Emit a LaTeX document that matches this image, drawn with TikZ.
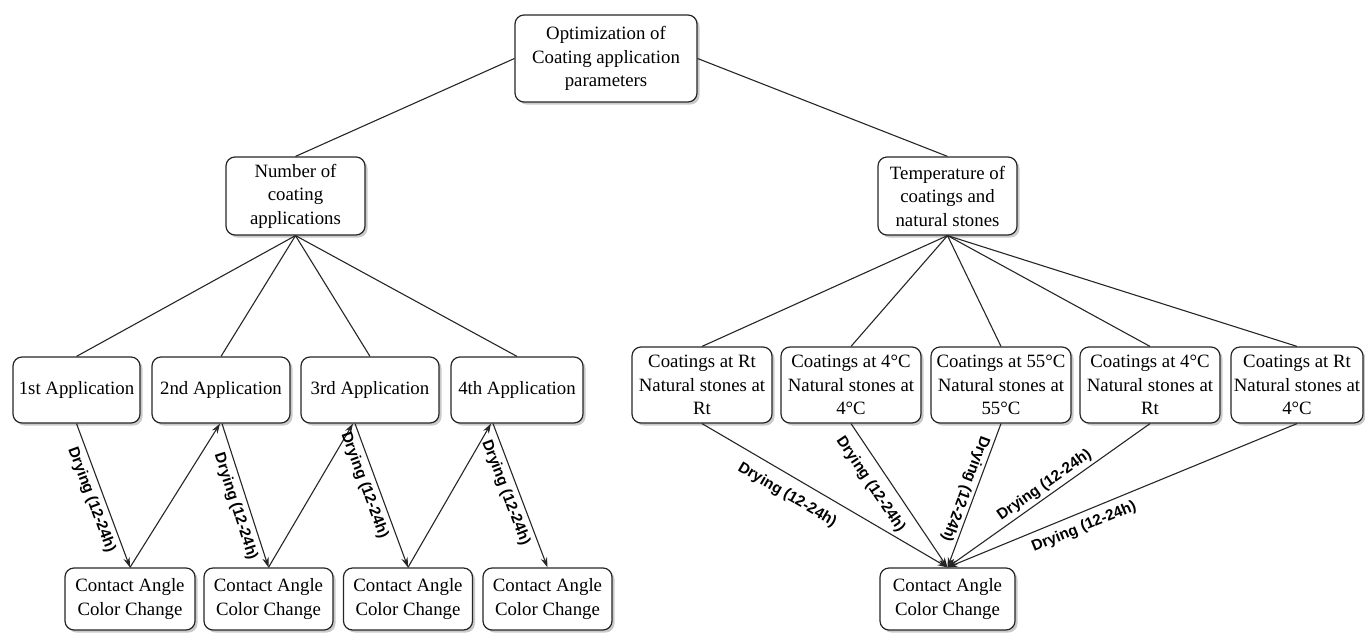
\documentclass[tikz,border=0pt]{standalone}
\usepackage{fontspec}
\setmainfont{Liberation Serif}
\newfontfamily\labfont{Liberation Sans}
\usetikzlibrary{arrows.meta,shadows,calc}
\begin{document}
\begin{tikzpicture}[x=1pt,y=-1pt,
  box/.style={draw=black!85, line width=1.2pt, rounded corners=9pt, fill=white, align=center,
    font=\fontsize{18.8}{23.5}\selectfont, inner sep=0pt,
    drop shadow={shadow xshift=2.5pt, shadow yshift=-2.5pt, fill=black!35, opacity=0.6}},
  link/.style={draw=black!85, line width=1.1pt},
  arr/.style={link, -{Stealth[length=10pt,width=6.5pt]}},
  lab/.style={font=\labfont\bfseries\fontsize{15.3}{17}\selectfont, sloped, inner sep=5pt}
]
\useasboundingbox (0,0) rectangle (1365,632);

% top level
\node[box, minimum width=182pt, minimum height=87pt] (top) at (606,58.5) {Optimization of\\Coating application\\parameters};
\node[box, minimum width=139pt, minimum height=78pt] (num) at (295.5,196) {Number of\\coating\\applications};
\node[box, minimum width=139pt, minimum height=78pt] (temp) at (947.5,196) {Temperature of\\coatings and\\natural stones};

% application row
\node[box, minimum width=127pt, minimum height=66pt] (a1) at (76.5,390) {1st Application};
\node[box, minimum width=138pt, minimum height=66pt] (a2) at (221,390) {2nd Application};
\node[box, minimum width=138pt, minimum height=66pt] (a3) at (370,390) {3rd Application};
\node[box, minimum width=132pt, minimum height=66pt] (a4) at (517,390) {4th Application};

% contact boxes left
\node[box, minimum width=130pt, minimum height=62pt] (c1) at (130,599) {Contact Angle\\Color Change};
\node[box, minimum width=129pt, minimum height=62pt] (c2) at (268.5,599) {Contact Angle\\Color Change};
\node[box, minimum width=129pt, minimum height=62pt] (c3) at (408,599) {Contact Angle\\Color Change};
\node[box, minimum width=129pt, minimum height=62pt] (c4) at (547.5,599) {Contact Angle\\Color Change};

% temperature row
\node[box, minimum width=140pt, minimum height=76pt] (t1) at (702,385) {Coatings at Rt\\Natural stones at\\Rt};
\node[box, minimum width=140pt, minimum height=76pt] (t2) at (851,385) {Coatings at 4°C\\Natural stones at\\4°C};
\node[box, minimum width=140pt, minimum height=76pt] (t3) at (1001,385) {Coatings at 55°C\\Natural stones at\\55°C};
\node[box, minimum width=140pt, minimum height=76pt] (t4) at (1150,385) {Coatings at 4°C\\Natural stones at\\Rt};
\node[box, minimum width=132pt, minimum height=76pt] (t5) at (1297,385) {Coatings at Rt\\Natural stones at\\4°C};

% contact box right
\node[box, minimum width=135pt, minimum height=62pt] (cr) at (947.5,599) {Contact Angle\\Color Change};

% tree links
\draw[link] (top.west) -- (num.north);
\draw[link] (top.east) -- (temp.north);
\foreach \n in {a1,a2,a3,a4} \draw[link] (num.south) -- (\n.north);
\foreach \n in {t1,t2,t3,t4,t5} \draw[link] (temp.south) -- (\n.north);

% left zigzag
\draw[arr] (a1.south) -- (c1.north) node[lab, pos=0.5, below] {Drying (12-24h)};
\draw[arr] (c1.north) -- ([xshift=-1pt]a2.south);
\draw[arr] ([xshift=1pt]a2.south) -- (c2.north) node[lab, pos=0.55, below] {Drying (12-24h)};
\draw[arr] (c2.north) -- ([xshift=-17pt]a3.south);
\draw[arr] ([xshift=-15pt]a3.south) -- (c3.north) node[lab, pos=0.4, below] {Drying (12-24h)};
\draw[arr] (c3.north) -- ([xshift=-26pt]a4.south);
\draw[arr] ([xshift=-24pt]a4.south) -- (c4.north) node[lab, pos=0.45, below] {Drying (12-24h)};

% right fan
\draw[arr] (t1.south) -- (cr.north) node[lab, pos=0.385, below, inner sep=11pt] {Drying (12-24h)};
\draw[arr] (t2.south) -- (cr.north) node[lab, pos=0.354, below, inner sep=10pt] {Drying (12-24h)};
\draw[arr] (t3.south) -- (cr.north) node[lab, pos=0.48, below, allow upside down, inner sep=3pt] {Drying (12-24h)};
\draw[arr] (t4.south) -- (cr.north) node[lab, pos=0.49, above, inner sep=3pt] {Drying (12-24h)};
\draw[arr] (t5.south) -- (cr.north) node[lab, pos=0.625, below, inner sep=7pt] {Drying (12-24h)};
\end{tikzpicture}
\end{document}
